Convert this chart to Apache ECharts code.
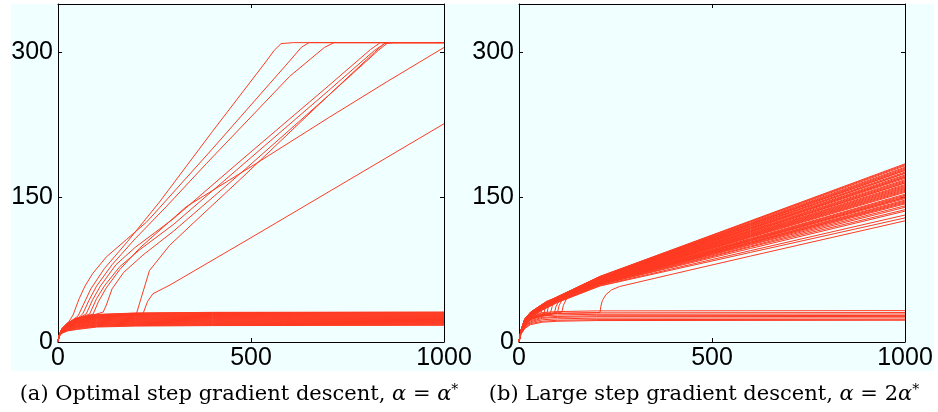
<!DOCTYPE html>
<html>
<head>
<meta charset="utf-8">
<script src="https://cdn.jsdelivr.net/npm/echarts@6/dist/echarts.min.js"></script>
<style>
html,body{margin:0;padding:0;background:#fff;}
#c{width:938px;height:412px;}
</style>
</head>
<body>
<div id="c"></div>
<script>
// ---------- DATA ----------
const xTicks = [0, 500, 1000];
const yTicks = [0, 150, 300];
const captionA = '(a) Optimal step gradient descent, ';
const captionB = '(b) Large step gradient descent, ';

// Panel (a): band of trajectories that saturate low (shared x grid)
const xGridA = [0, 3, 10, 25, 50, 100, 200, 400, 1000];
const bandA = [
  [0, 6, 9, 11.5, 13, 15.5, 16.5, 17, 17.3],
  [0, 6, 9.3, 12, 13.8, 16, 17, 17.5, 17.8],
  [0, 6, 9.5, 12.5, 14.5, 16.5, 17.5, 18, 18.3],
  [0, 6, 9.8, 12.8, 15, 17, 18, 18.5, 18.8],
  [0, 6, 10, 13, 15.5, 17.5, 18.5, 19, 19.3],
  [0, 6.3, 10.3, 13.5, 16, 18, 19, 19.5, 19.8],
  [0, 6.5, 10.5, 14, 16.5, 18.5, 19.5, 20, 20.3],
  [0, 6.5, 10.8, 14.5, 17, 19, 20, 20.5, 20.8],
  [0, 6.5, 11, 15, 17.5, 19.5, 20.5, 21, 21.3],
  [0, 6.5, 11, 15.3, 18, 20, 21, 21.5, 21.8],
  [0, 6.5, 11, 15.5, 18.5, 20.5, 21.5, 22, 22.3],
  [0, 6.5, 11.3, 15.8, 19, 21, 22, 22.5, 22.8],
  [0, 6.5, 11.5, 16, 19.5, 21.5, 22.5, 23, 23.3],
  [0, 6.8, 11.8, 16.3, 19.8, 22, 23, 23.5, 23.8],
  [0, 7, 12, 16.5, 20, 22.5, 23.5, 24, 24.3],
  [0, 7, 12, 16.8, 20.5, 23, 24, 24.5, 24.8],
  [0, 7, 12, 17, 21, 23.5, 24.5, 25, 25.3],
  [0, 7, 12.3, 17.3, 21.3, 24, 25, 25.5, 25.8],
  [0, 7, 12.5, 17.5, 21.5, 24.5, 25.5, 26, 26.3],
  [0, 7, 12.8, 17.8, 22, 25, 26, 26.5, 26.8],
  [0, 7, 13, 18, 22.5, 25.5, 26.5, 27, 27.3],
  [0, 7, 13, 18.3, 22.8, 26, 27, 27.5, 27.8],
  [0, 7, 13, 18.5, 23, 26.5, 27.5, 28, 28.3],
  [0, 7, 13.3, 18.8, 23.5, 26.8, 28, 28.5, 28.8],
  [0, 7, 13.5, 19, 24, 27, 28.5, 29, 29.3],
  [0, 7, 13.5, 19.3, 24.3, 27.5, 29, 29.5, 29.8],
  [0, 7, 13.5, 19.5, 24.5, 28, 29.5, 30, 30.3],
  [0, 7, 13.8, 19.8, 24.8, 28.3, 29.8, 30.4, 30.7],
  [0, 7, 14, 20, 25, 28.5, 30, 30.7, 31]
];
// Panel (a): trajectories that escape the band ([x, y] pairs)
const escapeA = [
  [[0,0],[3,7],[10,13],[25,19],[52,27],[65,38],[85,55],[120,76],[180,104],[263,145],[400,218],[540,291],[560,302],[578,309],[610,310],[1000,310]],
  [[0,0],[3,7],[10,13],[25,19],[39,28],[55,45],[70,58],[90,71],[125,88],[177,106],[229,124],[263,139],[400,200],[600,291],[630,305],[650,310],[1000,310]],
  [[0,0],[3,7],[10,13],[25,19],[50,24],[64,29],[80,43],[100,58],[140,80],[200,107],[280,140],[385,185],[600,275],[690,305],[715,310],[1000,310]],
  [[0,0],[3,7],[10,13],[25,19],[50,24],[73,29],[90,44],[110,58],[150,80],[200,98],[300,128],[471,187],[700,265],[810,303],[835,310],[1000,310]],
  [[0,0],[3,7],[10,13],[25,19],[50,24],[82,29],[100,45],[120,58],[160,78],[210,95],[300,122],[471,181],[700,260],[820,302],[850,310],[1000,310]],
  [[0,0],[3,7],[10,13],[25,19],[50,24],[100,29],[117,31],[125,38],[140,55],[170,72],[220,90],[300,115],[471,174],[700,255],[830,302],[855,310],[1000,310]],
  [[0,0],[3,7],[10,13],[25,19],[50,24],[91,29],[105,42],[125,56],[160,75],[211,97],[332,140],[514,185],[700,232],[850,269],[1000,305]],
  [[0,0],[3,6.5],[10,12],[25,17],[50,21],[100,25],[150,27],[203,29],[215,45],[237,74],[289,100],[350,123],[471,168],[700,255],[820,300],[845,309],[870,310],[1000,310]],
  [[0,0],[3,6.5],[10,12],[25,17],[50,21],[100,25],[150,27],[220,29],[232,42],[246,50],[290,59],[500,108],[750,167],[1000,226]]
];

// Panel (b): fan of diverging trajectories (shared x grid)
const xGridFanB = [0, 5, 15, 30, 60, 100, 210, 600, 1000];
const fanB = [
  [0,12,24,31,39,47,68,125.5,184.5],
  [0,12,23.9,30.9,38.9,46.9,67.8,125,183.5],
  [0,11.9,23.8,30.8,38.8,46.8,67.6,124.4,182.5],
  [0,11.9,23.7,30.6,38.6,46.6,67.4,123.5,181],
  [0,11.8,23.5,30.4,38.4,46.4,67,122.3,179],
  [0,11.8,23.4,30.3,38.3,46.3,66.8,121.7,178],
  [0,11.8,23.4,30.2,38.2,46.2,66.8,121.5,177.5],
  [0,11.7,23.2,30.1,38.1,46.1,66.5,120.6,176],
  [0,11.7,23.2,30,38,46,66.3,120,175],
  [0,11.7,23.1,29.9,37.9,45.9,66.2,119.7,174.5],
  [0,11.6,23,29.8,37.8,45.8,65.9,118.8,173],
  [0,11.5,22.8,29.5,37.5,45.5,65.6,117.7,171],
  [0,11.5,22.8,29.5,37.5,45.5,65.5,117.4,170.5],
  [0,11.5,22.7,29.4,37.4,45.4,65.3,116.8,169.5],
  [0,11.4,22.5,29.2,37.2,45.2,65.1,115.9,168],
  [0,11.4,22.4,29.1,37.1,45.1,64.9,115.3,167],
  [0,11.4,22.3,29,37,45,64.7,114.7,166],
  [0,11.3,22.2,28.9,36.9,44.9,64.4,113.9,164.5],
  [0,11.2,22.1,28.7,36.7,44.7,64.2,113,163],
  [0,11.2,22,28.6,36.6,44.6,64,112.4,162],
  [0,11.2,21.9,28.5,36.5,44.5,63.8,111.8,161],
  [0,11.1,21.8,28.4,36.4,44.4,63.6,111.2,160],
  [0,11.1,21.7,28.3,36.3,44.3,63.4,110.6,159],
  [0,11,21.5,28,36,44,63.1,109.5,157],
  [0,11,21.5,27.9,35.9,43.9,62.9,108.9,156],
  [0,11,21.4,27.8,35.8,43.8,62.7,108.3,155],
  [0,10.9,21.2,27.6,35.6,43.6,62.4,107.2,153],
  [0,10.8,21.1,27.5,35.5,43.5,62.2,106.6,152],
  [0,10.8,21,27.4,35.4,43.4,62,106,151],
  [0,10.8,20.9,27.2,35.2,43.2,61.8,105.1,149.5],
  [0,10.7,20.8,27.1,35.1,43.1,61.6,104.5,148.5],
  [0,10.7,20.7,27,35,43,61.3,103.6,147],
  [0,10.6,20.6,26.9,34.9,42.9,61.1,103.1,146],
  [0,10.6,20.5,26.8,34.8,42.8,60.9,102.4,145],
  [0,10.5,20.3,26.6,34.6,42.6,60.6,101.3,143],
  [0,10.4,20,26.2,34.2,42.2,60,99.3,139.5],
  [0,10.3,19.6,25.7,33.7,41.7,59.3,96.9,135.5],
  [0,10.1,19.3,25.3,33.3,41.3,58.5,94.6,131.5],
  [0,10,19,25,33,41,58,92.8,128.5]
];
// Panel (b): trajectories that leave the low band and join the fan ([x, y] pairs)
const hookB = [
  [[0,0],[5,10],[15,18],[30,24],[49,29],[52,34],[58,38],[70,42],[100,46.5],[210,67.2],[600,122.8],[1000,180]],
  [[0,0],[5,10],[15,18],[30,24],[57,30],[60,35],[66,40],[80,43],[100,45.6],[210,65.8],[600,118.2],[1000,172]],
  [[0,0],[5,10],[15,18],[30,24],[65,30],[68,36],[75,41],[100,45],[210,64.5],[600,114.2],[1000,165]],
  [[0,0],[5,10],[15,18],[30,24],[73,30.5],[76,37],[84,43],[100,44.2],[210,63.3],[600,110],[1000,158]],
  [[0,0],[5,10],[15,18],[30,24],[82,30.5],[86,37],[96,43],[210,61.8],[600,105.4],[1000,150]],
  [[0,0],[5,10],[15,18],[30,24],[92,30.5],[96,37],[106,44],[210,60.8],[600,102.3],[1000,144]],
  [[0,0],[5,10],[15,18],[30,24],[100,31],[104,38],[114,45],[210,60.2],[600,100.6],[1000,141]],
  [[0,0],[5,10],[15,18],[30,24],[111,31],[115,38],[126,47],[210,59.5],[600,98.4],[1000,137]]
];
const lateB = [[0,0],[5,10],[15,17.5],[30,24],[60,28.5],[100,29.8],[210,30.5],[212,37],[216,43],[225,49],[240,54],[261,57.5],[400,70.5],[600,89],[1000,125.5]];
// Panel (b): trajectories staying low (shared x grid)
const xGridFlatB = [0, 5, 15, 30, 60, 100, 200, 1000];
const flatB = [
  [0, 8, 14, 18, 20.5, 21.5, 22.2, 22.5],
  [0, 8.5, 14.5, 19, 21.5, 22.5, 23.2, 23.5],
  [0, 9, 15.5, 20, 23, 24, 24.7, 25],
  [0, 9, 16, 21, 24.5, 25.5, 26.2, 26.5],
  [0, 9.5, 16.5, 22, 25.5, 26.5, 27.2, 27.5],
  [0, 9.5, 17, 23, 27, 28, 28.7, 29],
  [0, 10, 17.5, 24, 28.5, 29.5, 30.2, 30.5],
  [0, 10, 18, 25, 30.5, 31.5, 32.2, 32.5]
];

// ---------- CHART ----------
const RED = '#ff3a22';
const chart = echarts.init(document.getElementById('c'), null, {renderer: 'canvas'});

function zip(xs, ys) { return ys.map((y, i) => [xs[i], y]); }
function lineSeries(data, g) {
  return {
    type: 'line', data: data, xAxisIndex: g * 2, yAxisIndex: g * 2,
    symbol: 'none', showSymbol: false, silent: true, animation: false,
    lineStyle: {color: RED, width: 1}, z: 3
  };
}
const series = [];
bandA.forEach(ys => series.push(lineSeries(zip(xGridA, ys), 0)));
escapeA.forEach(d => series.push(lineSeries(d, 0)));
flatB.forEach(ys => series.push(lineSeries(zip(xGridFlatB, ys), 1)));
fanB.forEach(ys => series.push(lineSeries(zip(xGridFanB, ys), 1)));
hookB.forEach(d => series.push(lineSeries(d, 1)));
series.push(lineSeries(lateB, 1));

const axisLine = {show: true, onZero: false, lineStyle: {color: '#000', width: 1}};
const tick = {show: true, inside: true, length: 4, lineStyle: {color: '#000'}};
const labelFont = {fontFamily: 'Liberation Sans', fontSize: 25, color: '#000'};

function xAxes(g) {
  const base = {type: 'value', gridIndex: g, min: xTicks[0], max: xTicks[xTicks.length - 1],
    interval: xTicks[1] - xTicks[0], splitLine: {show: false}, axisLine: axisLine, axisTick: tick};
  return [
    Object.assign({}, base, {position: 'bottom', axisLabel: Object.assign({show: true, margin: 4, showMaxLabel: true, formatter: v => String(v)}, labelFont)}),
    Object.assign({}, base, {position: 'top', axisLabel: {show: false}})
  ];
}
function yAxes(g) {
  const base = {type: 'value', gridIndex: g, min: 0, max: 350,
    interval: yTicks[1] - yTicks[0], splitLine: {show: false}, axisLine: axisLine, axisTick: tick};
  return [
    Object.assign({}, base, {position: 'left', axisLabel: Object.assign({show: true, margin: 5, showMaxLabel: false, formatter: v => String(v)}, labelFont)}),
    Object.assign({}, base, {position: 'right', axisLabel: {show: false}})
  ];
}

const CAPFONT = 'DejaVu Serif';
const capRich = {
  n: {fontFamily: CAPFONT, fontSize: 21, fill: '#000', color: '#000'},
  i: {fontFamily: CAPFONT, fontStyle: 'italic', fontSize: 21, fill: '#000', color: '#000'},
  s: {fontFamily: CAPFONT, fontSize: 14, fill: '#000', color: '#000', padding: [0, 0, 10, 0]}
};

chart.setOption({
  animation: false,
  backgroundColor: '#ffffff',
  grid: [
    {left: 58, top: 4, width: 386, height: 338, show: false},
    {left: 519, top: 4, width: 386, height: 338, show: false}
  ],
  xAxis: xAxes(0).concat(xAxes(1)),
  yAxis: yAxes(0).concat(yAxes(1)),
  graphic: [
    {type: 'rect', z: -100, silent: true, shape: {x: 11, y: 4, width: 923, height: 367}, style: {fill: '#f0ffff'}},
    {type: 'text', z: 100, silent: true, x: 239, y: 395,
      style: {text: '{n|' + captionA + '}{i|α}{n| = }{i|α}{s|*}', rich: capRich, align: 'center', verticalAlign: 'middle'}},
    {type: 'text', z: 100, silent: true, x: 704, y: 395,
      style: {text: '{n|' + captionB + '}{i|α}{n| = 2}{i|α}{s|*}', rich: capRich, align: 'center', verticalAlign: 'middle'}}
  ],
  series: series
});
</script>
</body>
</html>
